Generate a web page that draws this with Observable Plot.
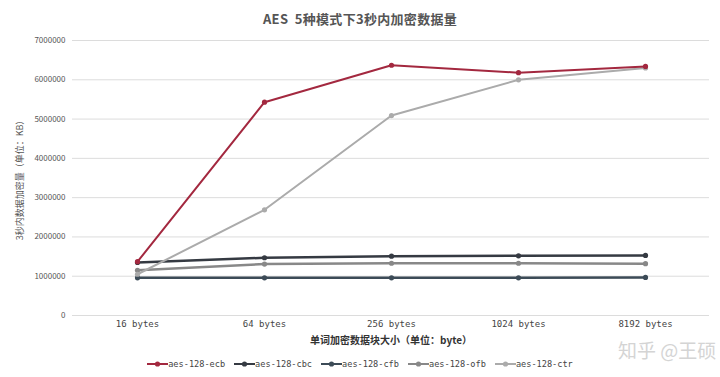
<!DOCTYPE html>
<html>
<head>
<meta charset="utf-8">
<script src="https://cdn.jsdelivr.net/npm/d3@7"></script>
<script src="https://cdn.jsdelivr.net/npm/@observablehq/plot@0.6"></script>
<style>
  body { margin: 0; background: #fff; width: 720px; height: 377px; overflow: hidden; position: relative; font-family: "Noto Sans CJK SC", "Noto Sans", sans-serif; }
  #title { height: 30px; line-height: 38px; text-align: center; font-size: 13px; color: #555; font-weight: bold; letter-spacing: 0.3px; }
  #legend { display: flex; justify-content: center; gap: 9px; height: 27px; align-items: center; font-family: "DejaVu Sans Mono", monospace; font-size: 8.6px; color: #444; }
  #legend .item { display: flex; align-items: center; }
  #wm { position: absolute; left: 618px; top: 336px; font-size: 19px; color: #d4d4d4; white-space: nowrap; font-family: "Noto Sans CJK SC", sans-serif; }
</style>
</head>
<body>
<div id="title">AES&nbsp; 5种模式下3秒内加密数据量</div>
<div id="chart"></div>
<div id="legend"></div>
<div id="wm">知乎 @王硕</div>
<script>
const sizes = ["16 bytes", "64 bytes", "256 bytes", "1024 bytes", "8192 bytes"];
const modes = ["aes-128-ecb", "aes-128-cbc", "aes-128-cfb", "aes-128-ofb", "aes-128-ctr"];
const colors = ["#a3283f", "#353a42", "#3c4b57", "#888888", "#ababab"];
const ecb = [1370000, 5430000, 6370000, 6180000, 6340000];
const cbc = [1350000, 1470000, 1510000, 1520000, 1530000];
const cfb = [960000, 960000, 960000, 960000, 970000];
const ofb = [1150000, 1310000, 1330000, 1330000, 1320000];
const ctr = [1050000, 2690000, 5090000, 6000000, 6300000];
const yTicks = [0, 1000000, 2000000, 3000000, 4000000, 5000000, 6000000, 7000000];

const series = [ecb, cbc, cfb, ofb, ctr];
const data = [];
series.forEach((vals, i) => vals.forEach((v, j) => data.push({mode: modes[i], size: sizes[j], value: v})));
const drawOrder = ["aes-128-cfb", "aes-128-ofb", "aes-128-cbc", "aes-128-ctr", "aes-128-ecb"];
const widths = {"aes-128-ecb": 2, "aes-128-cbc": 2.5, "aes-128-cfb": 2.5, "aes-128-ofb": 2.5, "aes-128-ctr": 2};

const marks = [
  Plot.gridY(yTicks, {stroke: "#dcdcdc", strokeOpacity: 1, strokeWidth: 1}),
  Plot.axisY(yTicks, {tickSize: 0, tickPadding: 7, tickFormat: d => String(d), fontSize: 8, fill: "#555", label: null}),
  Plot.axisX({tickSize: 0, tickPadding: 5, fontSize: 9, fill: "#444", fontFamily: "DejaVu Sans Mono, monospace", label: null}),
  Plot.text(["3秒内数据加密量（单位：KB）"], {frameAnchor: "left", dx: -52, rotate: -90, textAnchor: "middle", fontSize: 9, fill: "#555"}),
  Plot.text(["单词加密数据块大小（单位：byte）"], {frameAnchor: "bottom", lineAnchor: "middle", dy: 25, fontSize: 10, fontWeight: "bold", fill: "#333"})
];
for (const m of drawOrder) {
  const d = data.filter(r => r.mode === m);
  const c = colors[modes.indexOf(m)];
  marks.push(Plot.line(d, {x: "size", y: "value", stroke: c, strokeWidth: widths[m]}));
  marks.push(Plot.dot(d, {x: "size", y: "value", fill: c, r: 2.6}));
}

const chart = Plot.plot({
  width: 720,
  height: 320,
  marginLeft: 72,
  marginRight: 11,
  marginTop: 10,
  marginBottom: 35,
  style: {fontFamily: "Noto Sans CJK SC, Noto Sans, sans-serif", background: "#fff"},
  x: {type: "point", domain: sizes, padding: 0.5},
  y: {domain: [0, 7000000]},
  marks
});
document.getElementById("chart").append(chart);

const legend = document.getElementById("legend");
modes.forEach((m, i) => {
  const item = document.createElement("div");
  item.className = "item";
  item.innerHTML = `<svg width="21" height="8"><line x1="0" y1="4" x2="21" y2="4" stroke="${colors[i]}" stroke-width="2"/><circle cx="10.5" cy="4" r="2.6" fill="${colors[i]}"/></svg><span>${m}</span>`;
  legend.append(item);
});
</script>
</body>
</html>
